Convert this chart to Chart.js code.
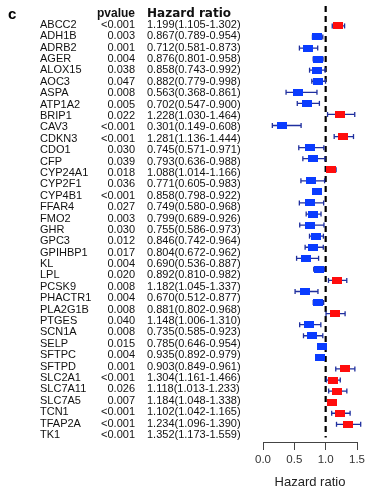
<!DOCTYPE html>
<html>
<head>
<meta charset="utf-8">
<script src="https://cdn.jsdelivr.net/npm/chart.js@4/dist/chart.umd.min.js"></script>
<style>
  html, body { margin: 0; padding: 0; background: #fff; }
  canvas { display: block; }
</style>
</head>
<body>
<canvas id="forest" width="373" height="490"></canvas>
<script>
// forest plot data
const genes = ["ABCC2", "ADH1B", "ADRB2", "AGER", "ALOX15", "AOC3", "ASPA", "ATP1A2", "BRIP1", "CAV3",
  "CDKN3", "CDO1", "CFP", "CYP24A1", "CYP2F1", "CYP4B1", "FFAR4", "FMO2", "GHR", "GPC3",
  "GPIHBP1", "KL", "LPL", "PCSK9", "PHACTR1", "PLA2G1B", "PTGES", "SCN1A", "SELP", "SFTPC",
  "SFTPD", "SLC2A1", "SLC7A11", "SLC7A5", "TCN1", "TFAP2A", "TK1"];
const pvalues = ["<0.001", "0.003", "0.001", "0.004", "0.038", "0.047", "0.008", "0.005", "0.022", "<0.001",
  "<0.001", "0.030", "0.039", "0.018", "0.036", "<0.001", "0.027", "0.003", "0.030", "0.012",
  "0.017", "0.004", "0.020", "0.008", "0.004", "0.008", "0.040", "0.008", "0.015", "0.004",
  "0.001", "<0.001", "0.026", "0.007", "<0.001", "<0.001", "<0.001"];
const hr = [1.199, 0.867, 0.712, 0.876, 0.858, 0.882, 0.563, 0.702, 1.228, 0.301,
  1.281, 0.745, 0.793, 1.088, 0.771, 0.858, 0.749, 0.799, 0.755, 0.846,
  0.804, 0.690, 0.892, 1.182, 0.670, 0.881, 1.148, 0.735, 0.785, 0.935,
  0.903, 1.304, 1.118, 1.184, 1.102, 1.234, 1.352];
const lower = [1.105, 0.789, 0.581, 0.801, 0.743, 0.779, 0.368, 0.547, 1.030, 0.149,
  1.136, 0.571, 0.636, 1.014, 0.605, 0.798, 0.580, 0.689, 0.586, 0.742,
  0.672, 0.536, 0.810, 1.045, 0.512, 0.802, 1.006, 0.585, 0.646, 0.892,
  0.849, 1.161, 1.013, 1.048, 1.042, 1.096, 1.173];
const upper = [1.302, 0.954, 0.873, 0.958, 0.992, 0.998, 0.861, 0.900, 1.464, 0.608,
  1.444, 0.971, 0.988, 1.166, 0.983, 0.922, 0.968, 0.926, 0.973, 0.964,
  0.962, 0.887, 0.982, 1.337, 0.877, 0.968, 1.310, 0.923, 0.954, 0.979,
  0.961, 1.466, 1.233, 1.338, 1.165, 1.390, 1.559];
const xTicks = [0, 0.5, 1, 1.5];

const FONT = "'Liberation Sans', Arial, Helvetica, sans-serif";
const RED = "#ff0d0d";
const BLUE = "#0a3cff";
const CI_COLOR = "#1f2f9f";

// small rectangle used as point style for the boxes
function makeBox(color) {
  const c = document.createElement("canvas");
  c.width = 10;
  c.height = 7;
  const g = c.getContext("2d");
  g.fillStyle = color;
  g.fillRect(0, 0, 10, 7);
  return c;
}
const redBox = makeBox(RED);
const blueBox = makeBox(BLUE);

const rows = genes.map((g, i) => i);
const hrLabels = hr.map((v, i) => `${v.toFixed(3)}(${lower[i].toFixed(3)}-${upper[i].toFixed(3)})`);

// CI segments, split by gaps
const ciData = [];
rows.forEach((i) => {
  ciData.push({ x: lower[i], y: i }, { x: upper[i], y: i }, { x: null, y: null });
});
const capData = [];
rows.forEach((i) => {
  capData.push({ x: lower[i], y: i }, { x: upper[i], y: i });
});

// fixed size, no extra layout padding from the labels
function fixWidth(width) {
  return (scale) => {
    scale.width = width;
    scale.paddingTop = 0;
    scale.paddingBottom = 0;
  };
}

// a text column drawn as a y axis
function textAxis(labels, weight, width, crossAlign, padding, header, headerFont) {
  return {
    type: "linear",
    position: "left",
    reverse: true,
    bounds: "data",
    min: -1.657,
    max: 36.62,
    weight: weight,
    grid: { display: false, drawTicks: false },
    border: { display: false },
    afterFit: fixWidth(width),
    afterBuildTicks: (scale) => {
      const t = header ? [{ value: -1 }] : [];
      labels.forEach((l, i) => t.push({ value: i }));
      scale.ticks = t;
    },
    ticks: {
      autoSkip: false,
      crossAlign: crossAlign,
      padding: padding,
      color: "#111",
      font: (ctx) => (ctx.tick && ctx.tick.value === -1)
        ? headerFont
        : { family: FONT, size: 11, lineHeight: 1 },
      callback: (value) => value === -1 ? header : labels[value],
    },
  };
}

new Chart(document.getElementById("forest"), {
  type: "scatter",
  data: {
    datasets: [
      {
        label: "HR",
        data: rows.map((i) => ({ x: hr[i], y: i })),
        pointStyle: (ctx) => hr[ctx.dataIndex] > 1 ? redBox : blueBox,
        pointRadius: 5,
        clip: false,
      },
      {
        label: "CI caps",
        data: capData,
        pointStyle: "line",
        rotation: 90,
        pointRadius: 2.5,
        borderColor: CI_COLOR,
        borderWidth: 1.3,
        clip: false,
      },
      {
        type: "line",
        label: "CI",
        data: ciData,
        borderColor: CI_COLOR,
        borderWidth: 1.3,
        pointRadius: 0,
        spanGaps: false,
        clip: false,
      },
      {
        type: "line",
        label: "HR = 1",
        data: [{ x: 1, y: -1.8 }, { x: 1, y: 37.2 }],
        borderColor: "#000",
        borderWidth: 2.2,
        borderDash: [6, 4],
        pointRadius: 0,
        clip: false,
      },
    ],
  },
  options: {
    responsive: false,
    animation: false,
    events: [],
    layout: { padding: { left: 8, right: 16, top: 3, bottom: 0 } },
    plugins: { legend: { display: false }, tooltip: { enabled: false } },
    scales: {
      x: {
        type: "linear",
        min: 0,
        max: 1.5,
        afterFit: (scale) => {
          scale.height = 48;
          scale.paddingLeft = 0;
          scale.paddingRight = 0;
        },
        afterBuildTicks: (scale) => { scale.ticks = xTicks.map((v) => ({ value: v })); },
        grid: { drawOnChartArea: false, drawTicks: true, tickLength: 8, color: "#444" },
        border: { display: true, color: "#444", width: 1 },
        ticks: {
          padding: 3,
          color: "#333",
          font: { family: FONT, size: 11.5 },
          callback: (v) => v.toFixed(1),
        },
        title: {
          display: true,
          text: "Hazard ratio",
          color: "#222",
          font: { family: FONT, size: 13 },
          padding: { top: 0, bottom: 0 },
        },
      },
      y: {
        type: "linear",
        display: false,
        reverse: true,
        min: -1.8,
        max: 37.6,
      },
      yHr: textAxis(hrLabels, 1, 116, "far", 0, "Hazard ratio",
        { family: "'DejaVu Sans', " + FONT, size: 12, weight: "bold", lineHeight: 1 }),
      yP: textAxis(pvalues, 2, 54, "near", 12, "pvalue",
        { family: FONT, size: 12, weight: "bold", lineHeight: 1 }),
      yGene: textAxis(genes, 3, 53, "far", 0, null, null),
      yTag: {
        type: "linear",
        position: "left",
        reverse: true,
        min: -1.657,
        max: 36.62,
        weight: 4,
        grid: { display: false, drawTicks: false },
        border: { display: false },
        afterFit: fixWidth(32),
        afterBuildTicks: (scale) => { scale.ticks = [{ value: -0.9 }]; },
        ticks: {
          autoSkip: false,
          crossAlign: "far",
          color: "#000",
          font: { family: FONT, size: 15, weight: "bold", lineHeight: 1 },
          callback: () => "c",
        },
      },
    },
  },
});
</script>
</body>
</html>
